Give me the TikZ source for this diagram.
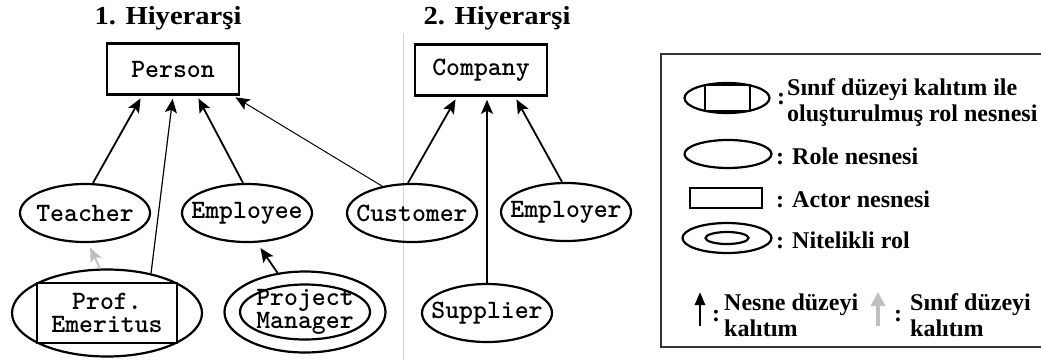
\documentclass[tikz,border=0pt]{standalone}
\usepackage{fontspec}
\usepackage{graphicx}
\setmainfont{Liberation Serif}
\newfontfamily\codefont{lmmonolt10-bold.otf}
\usetikzlibrary{shapes.geometric,arrows.meta}

\begin{document}
\begin{tikzpicture}
  [
    x=1pt, y=-1pt,
    role/.style={ellipse, draw, line width=2.2pt, inner sep=-15pt, align=center,
      minimum width=130pt, minimum height=58pt,
      font=\fontsize{26.5}{23}\selectfont\codefont},
    actor/.style={rectangle, draw, line width=2.6pt, inner sep=0pt, align=center,
      minimum width=132pt, minimum height=51pt,
      font=\fontsize{26.5}{23}\selectfont\codefont},
    heading/.style={font=\fontsize{26}{30}\selectfont\bfseries},
    legend/.style={anchor=west, inner sep=0pt, align=left,
      font=\fontsize{24}{26}\selectfont\bfseries},
    isa/.style={-{Stealth[length=14pt,width=12pt,inset=3pt]}, line width=1.8pt, shorten >=3pt},
    classisa/.style={isa, gray!50}
  ]
  \useasboundingbox (0,0) rectangle (1041,360);
  \clip (0,0) rectangle (1041,360);
  \fill[white] (0,0) rectangle (1041,360);

  % the two hierarchies
  \node[heading] (h1) at (168,18) {\scalebox{1.1}[1]{1. Hiyerarşi}};
  \node[heading] (h2) at (497,18) {\scalebox{1.1}[1]{2. Hiyerarşi}};
  \draw[gray!35, line width=1pt] (403,33) -- (403,360);

  \node[actor] (person) at (173,69) {Person};
  \node[actor] (company) at (481,70) {Company};

  \node[role] (teacher) at (85,213) {Teacher};
  \node[role] (employee) at (247,213) {Employee};
  \node[role] (customer) at (412,213) {Customer};
  \node[role] (employer) at (566,212) {Employer};
  \node[role] (supplier) at (487,313) {Supplier};

  % role built by class inheritance
  \node[role, minimum width=190pt, minimum height=87pt] (prof) at (107,313) {Prof.\\Emeritus};
  \node[draw, line width=2.2pt, inner sep=0pt, minimum width=140pt, minimum height=60pt]
    (profbox) at (prof.center) {};

  % qualified role
  \node[role, minimum width=161pt, minimum height=81pt,
    font=\fontsize{26.5}{19}\selectfont\codefont] (pm) at (305,312) {Project\\Manager};
  \node[role, minimum width=130pt, minimum height=55pt] (pminner) at (pm.center) {};

  % object level inheritance
  \draw[isa] ([xshift=8pt]teacher.north) -- ([xshift=-31pt]person.south);
  \draw[isa, line width=1.2pt] (prof.42) -- (person.south);
  \draw[isa] ([xshift=-4pt]employee.north) -- ([xshift=24pt]person.south);
  \draw[isa, line width=1pt] (customer.138) -- ([xshift=60pt]person.south);
  \draw[isa, shorten >=6pt] (pm.125) -- ([xshift=10pt]employee.south);
  \draw[isa] ([xshift=-4pt]customer.north) -- ([xshift=-24pt]company.south);
  \draw[isa] (supplier.north) -- (supplier.north |- company.south);
  \draw[isa] ([xshift=-4pt]employer.north) -- ([xshift=34pt]company.south);
  % class level inheritance
  \draw[classisa, shorten >=5pt] ([xshift=-7pt]prof.north) -- ([xshift=3pt]teacher.south);

  % legend
  \draw[line width=1.6pt, black!80] (661,54) rectangle (1060,347);

  \node[role, minimum width=85pt, minimum height=30pt] (keyclass) at (727,98) {};
  \node[draw, line width=2pt, inner sep=0pt, minimum width=45pt, minimum height=26pt]
    (keyclassbox) at (keyclass.center) {};
  \node[legend] (keyclasscolon) at (777,99) {:};
  \node[legend] (keyclasstext) at (787,103) {Sınıf düzeyi kalıtım ile\\oluşturulmuş rol nesnesi};

  \node[role, minimum width=87pt, minimum height=28pt] (keyrole) at (728,154) {};
  \node[legend] (keyroletext) at (776,156) {: Role nesnesi};

  \node[draw, line width=2.2pt, inner sep=0pt, minimum width=72pt, minimum height=20pt]
    (keyactor) at (726,198) {};
  \node[legend] (keyactortext) at (776,199) {: Actor nesnesi};

  \node[role, minimum width=89pt, minimum height=30pt] (keyqual) at (727,238) {};
  \node[role, minimum width=43pt, minimum height=12pt] (keyqualin) at (keyqual.center) {};
  \node[legend] (keyqualtext) at (776,240) {: Nitelikli rol};

  \coordinate (objlo) at (700,326);
  \coordinate (objhi) at (700,292);
  \draw[-{Triangle[length=13pt,width=10pt]}, line width=2.6pt] (objlo) -- (objhi);
  \node[legend] (objcolon) at (712,316) {:};
  \node[legend] (objtext) at (724,315) {Nesne düzeyi\\kalıtım};

  \coordinate (clslo) at (878,326);
  \coordinate (clshi) at (878,292);
  \draw[-{Triangle[length=14pt,width=14pt]}, gray!50, line width=4.5pt] (clslo) -- (clshi);
  \node[legend] (clscolon) at (894,316) {:};
  \node[legend] (clstext) at (910,315) {Sınıf düzeyi\\kalıtım};
\end{tikzpicture}
\end{document}
